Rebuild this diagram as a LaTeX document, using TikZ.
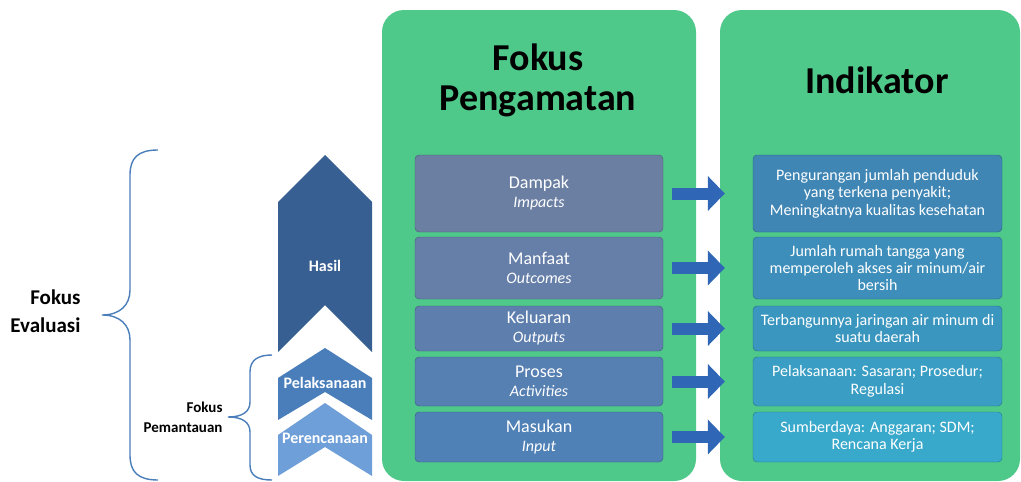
\documentclass[tikz,border=0pt]{standalone}
\usepackage{fontspec}
\setmainfont{Carlito}
\usetikzlibrary{arrows.meta}

\definecolor{panelgreen}{HTML}{4EC98A}
\definecolor{bracecol}{HTML}{4A7EBB}
\definecolor{arrowcol}{HTML}{2F66B6}

\begin{document}
\begin{tikzpicture}[x=1pt,y=-1pt,
  panel/.style={fill=panelgreen, rounded corners=22pt},
  headtext/.style={font=\bfseries\fontsize{38}{40}\selectfont, align=center},
  obsbox/.style={draw=#1!70!black, fill=#1, rounded corners=4pt, minimum width=248pt,
    text=white, align=center, inner sep=0pt, font=\fontsize{18}{19}\selectfont},
  indbox/.style={draw=#1!70!black, fill=#1, rounded corners=4pt, minimum width=249pt,
    text=white, align=center, inner sep=0pt, font=\fontsize{16}{17.5}\selectfont},
  chevlabel/.style={text=white, font=\bfseries\fontsize{16}{18}\selectfont},
  sidetext/.style={align=right, anchor=east, font=\bfseries},
  curly/.style={draw=bracecol, line width=1.4pt},
  bigarrow/.style={draw=arrowcol, line width=12pt, -{Triangle[width=34pt,length=17pt]}}]
\useasboundingbox (0,0) rectangle (1021,482);

% panels
\fill[panel] (382,10) rectangle (696,481);
\fill[panel] (720,10) rectangle (1020,481);
\node[headtext] (fp) at (538,80) {Fokus\\Pengamatan};
\node[headtext] (ind) at (877,80) {Indikator};

% observation boxes
\definecolor{obsA}{HTML}{6B7FA3}
\definecolor{obsB}{HTML}{667FA8}
\definecolor{obsC}{HTML}{5E7FAE}
\definecolor{obsD}{HTML}{567FB2}
\definecolor{obsE}{HTML}{5081B6}
\node[obsbox=obsA, minimum height=77pt] (obs1) at (539,193.5) {Dampak\\\textit{\fontsize{16}{19}\selectfont Impacts}};
\node[obsbox=obsB, minimum height=62pt] (obs2) at (539,268) {Manfaat\\\textit{\fontsize{16}{19}\selectfont Outcomes}};
\node[obsbox=obsC, minimum height=45pt] (obs3) at (539,328.5) {Keluaran\\\textit{\fontsize{16}{19}\selectfont Outputs}};
\node[obsbox=obsD, minimum height=49pt] (obs4) at (539,381.5) {Proses\\\textit{\fontsize{16}{19}\selectfont Activities}};
\node[obsbox=obsE, minimum height=50pt] (obs5) at (539,437) {Masukan\\\textit{\fontsize{16}{19}\selectfont Input}};

% indicator boxes
\definecolor{indA}{HTML}{3F86B5}
\definecolor{indB}{HTML}{3D8EBA}
\definecolor{indC}{HTML}{3B96BF}
\definecolor{indD}{HTML}{3A9EC4}
\definecolor{indE}{HTML}{38A8CB}
\node[indbox=indA, minimum height=77pt] (ind1) at (877.5,193.5) {Pengurangan jumlah penduduk\\yang terkena penyakit;\\Meningkatnya kualitas kesehatan};
\node[indbox=indB, minimum height=62pt] (ind2) at (877.5,268) {Jumlah rumah tangga yang\\memperoleh akses air minum/air\\bersih};
\node[indbox=indC, minimum height=45pt] (ind3) at (877.5,328.5) {Terbangunnya jaringan air minum di\\suatu daerah};
\node[indbox=indD, minimum height=49pt] (ind4) at (877.5,381.5) {Pelaksanaan: Sasaran; Prosedur;\\Regulasi};
\node[indbox=indE, minimum height=50pt] (ind5) at (877.5,437) {Sumberdaya: Anggaran; SDM;\\Rencana Kerja};

\foreach \n in {1,...,5} \draw[bigarrow] ([xshift=9pt]obs\n.east) -- ([xshift=-28pt]ind\n.west);

% chevrons
\definecolor{hasilcol}{HTML}{375F91}
\definecolor{pelakcol}{HTML}{4A7EBB}
\definecolor{rencancol}{HTML}{6F9FD8}
\fill[hasilcol] (278,202) -- (325,155) -- (372,202) -- (372,352) -- (325,305) -- (278,352) -- cycle;
\fill[pelakcol] (278,378) -- (325,348) -- (372,378) -- (372,420) -- (325,392) -- (278,420) -- cycle;
\fill[rencancol] (278,435) -- (325,403) -- (372,435) -- (372,476) -- (325,447) -- (278,476) -- cycle;
\node[chevlabel] (hasil) at (325,266) {Hasil};
\node[chevlabel] (pelak) at (325,383) {Pelaksanaan};
\node[chevlabel] (rencana) at (325,438) {Perencanaan};

% braces
\draw[curly] (158,150) .. controls (138,150) and (130,158) .. (130,175) -- (130,290)
  .. controls (130,305) and (120,315) .. (102,315) .. controls (120,315) and (130,325) .. (130,340)
  -- (130,455) .. controls (130,472) and (138,480) .. (158,480);
\draw[curly] (272,355) .. controls (258,355) and (250,360) .. (250,372) -- (250,402)
  .. controls (250,412) and (242,417) .. (228,417) .. controls (242,417) and (250,422) .. (250,432)
  -- (250,465) .. controls (250,476) and (258,480) .. (272,480);
\node[sidetext, font=\bfseries\fontsize{21}{28}\selectfont] (eval) at (84,311) {Fokus\\Evaluasi};
\node[sidetext, font=\bfseries\fontsize{15}{20}\selectfont] (pantau) at (226,417) {Fokus\\Pemantauan};
\end{tikzpicture}
\end{document}
